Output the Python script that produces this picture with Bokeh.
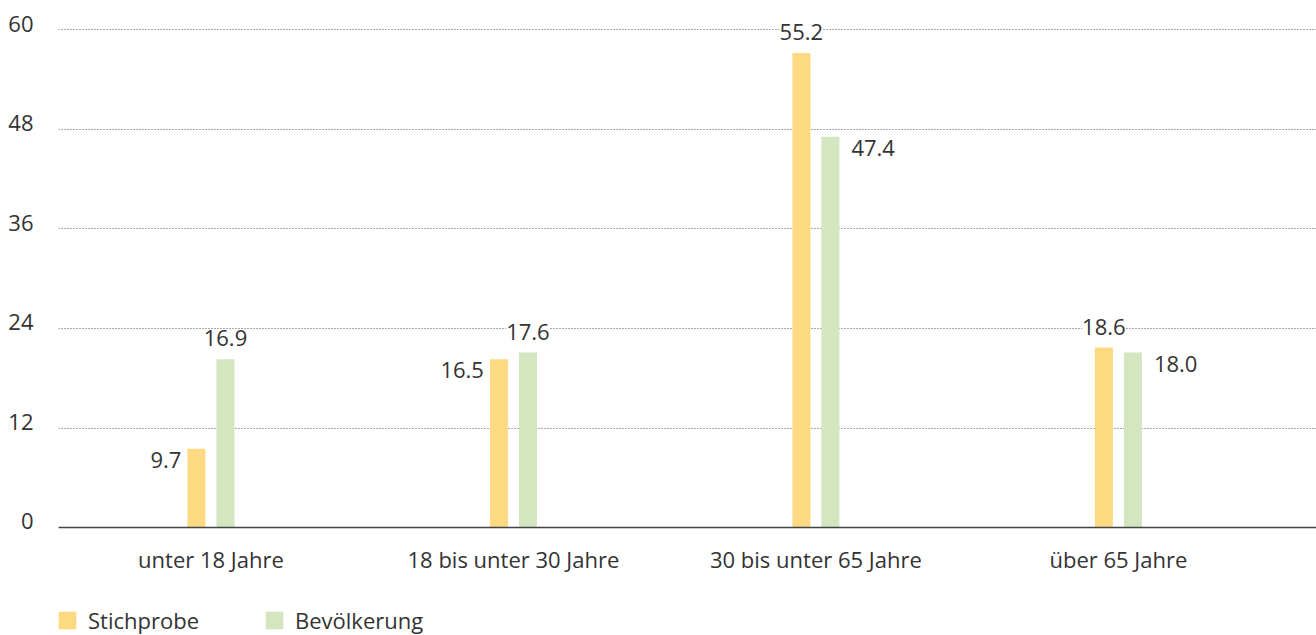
from bokeh.plotting import figure
from bokeh.models import (ColumnDataSource, LabelSet, Range1d, FixedTicker,
                          Legend, LegendItem, LinearAxis)
from bokeh.core.properties import value
from bokeh.embed import file_html
from bokeh.resources import INLINE

# ---- data -------------------------------------------------------------
categories = ["unter 18 Jahre", "18 bis unter 30 Jahre",
              "30 bis unter 65 Jahre", "über 65 Jahre"]
series_names = ["Stichprobe", "Bevölkerung"]
# bar heights as drawn in the reference
stichprobe = [9.5, 20.3, 57.2, 21.7]
bevoelkerung = [20.3, 21.1, 47.1, 21.1]
# printed value labels
stichprobe_text = ["9.7", "16.5", "55.2", "18.6"]
bevoelkerung_text = ["16.9", "17.6", "47.4", "18.0"]
# where each value label sits relative to its bar
stichprobe_side = ["left", "left", "above", "above"]
bevoelkerung_side = ["above", "above", "right", "right"]
y_ticks = [0, 12, 24, 36, 48, 60]

# ---- styles -----------------------------------------------------------
FONT = "Open Sans"
TXT = "#333333"
YELLOW = "#fdd982"
GREEN = "#d3e6bf"
FS = "22px"
BAR_W = 0.0595
OFFS = [-0.048, 0.048]
Y_MIN, Y_MAX = -13.0, 61.0     # room below zero holds category labels + legend
Y_LABEL_SHIFT = 0.75           # tick labels sit just above their gridline

p = figure(width=1316, height=635, output_backend="svg",
           toolbar_location=None,
           x_range=Range1d(-0.504, 3.655), y_range=Range1d(Y_MIN, Y_MAX),
           min_border_left=58, min_border_right=0, min_border_top=21,
           min_border_bottom=0)
p.outline_line_color = None
p.background_fill_color = "white"
p.border_fill_color = "white"

xs = list(range(len(categories)))
src = ColumnDataSource(dict(
    x0=[x + OFFS[0] for x in xs], x1=[x + OFFS[1] for x in xs],
    s=stichprobe, b=bevoelkerung))
r1 = p.vbar(x="x0", top="s", bottom=0, width=BAR_W, source=src, color=YELLOW, line_color=None)
r2 = p.vbar(x="x1", top="b", bottom=0, width=BAR_W, source=src, color=GREEN, line_color=None)

# grid
p.xgrid.visible = False
p.ygrid.ticker = FixedTicker(ticks=y_ticks)
p.ygrid.grid_line_color = "#555555"
p.ygrid.grid_line_dash = "1 2"
p.ygrid.grid_line_width = 1

# y axis (labels drawn on a range shifted so they sit on top of the gridlines)
p.yaxis.visible = False
p.extra_y_ranges = {"lab": Range1d(Y_MIN - Y_LABEL_SHIFT, Y_MAX - Y_LABEL_SHIFT)}
ya = LinearAxis(y_range_name="lab", ticker=FixedTicker(ticks=y_ticks))
ya.axis_line_color = None
ya.major_tick_line_color = None
ya.minor_tick_line_color = None
ya.major_tick_out = 0
ya.major_label_standoff = 25
ya.major_label_text_font = FONT
ya.major_label_text_font_size = FS
ya.major_label_text_color = TXT
p.add_layout(ya, "left")

# x axis, drawn on the zero line
xa = p.xaxis[0]
xa.fixed_location = 0
xa.ticker = FixedTicker(ticks=xs)
xa.major_label_overrides = {float(i): c for i, c in enumerate(categories)}
xa.axis_line_color = "#444444"
xa.axis_line_width = 1.5
xa.major_tick_line_color = None
xa.minor_tick_line_color = None
xa.major_tick_out = 0
xa.major_label_standoff = 16
xa.major_label_text_font = FONT
xa.major_label_text_font_size = FS
xa.major_label_text_color = TXT

# value labels
groups = {"above": dict(x=[], y=[], t=[]), "left": dict(x=[], y=[], t=[]),
          "right": dict(x=[], y=[], t=[])}
for off, vals, texts, sides in ((OFFS[0], stichprobe, stichprobe_text, stichprobe_side),
                                (OFFS[1], bevoelkerung, bevoelkerung_text, bevoelkerung_side)):
    for i, (v, t, sd) in enumerate(zip(vals, texts, sides)):
        cx = i + off
        if sd == "left":
            cx -= BAR_W / 2
        elif sd == "right":
            cx += BAR_W / 2
        groups[sd]["x"].append(cx)
        groups[sd]["y"].append(v)
        groups[sd]["t"].append(t)

common = dict(x="x", y="y", text="t", text_font=value(FONT), text_font_size=value(FS),
              text_color=TXT, text_baseline="alphabetic")
p.add_layout(LabelSet(source=ColumnDataSource(groups["above"]), text_align="center",
                      y_offset=13, background_fill_color="white", **common))
p.add_layout(LabelSet(source=ColumnDataSource(groups["left"]), text_align="right",
                      x_offset=-6, y_offset=-19, **common))
p.add_layout(LabelSet(source=ColumnDataSource(groups["right"]), text_align="left",
                      x_offset=12, y_offset=-19, **common))

# legend (bottom-left, below the category labels)
legend = Legend(items=[LegendItem(label=series_names[0], renderers=[r1]),
                       LegendItem(label=series_names[1], renderers=[r2])],
                orientation="horizontal", location=(-2, 0),
                glyph_width=22, glyph_height=22, label_standoff=10,
                label_width=175, spacing=0, padding=0, margin=0,
                border_line_color=None, background_fill_alpha=0,
                label_text_font=FONT, label_text_font_size=FS,
                label_text_color=TXT)
p.add_layout(legend, "center")

open("out.html", "w").write(file_html(p, INLINE))
